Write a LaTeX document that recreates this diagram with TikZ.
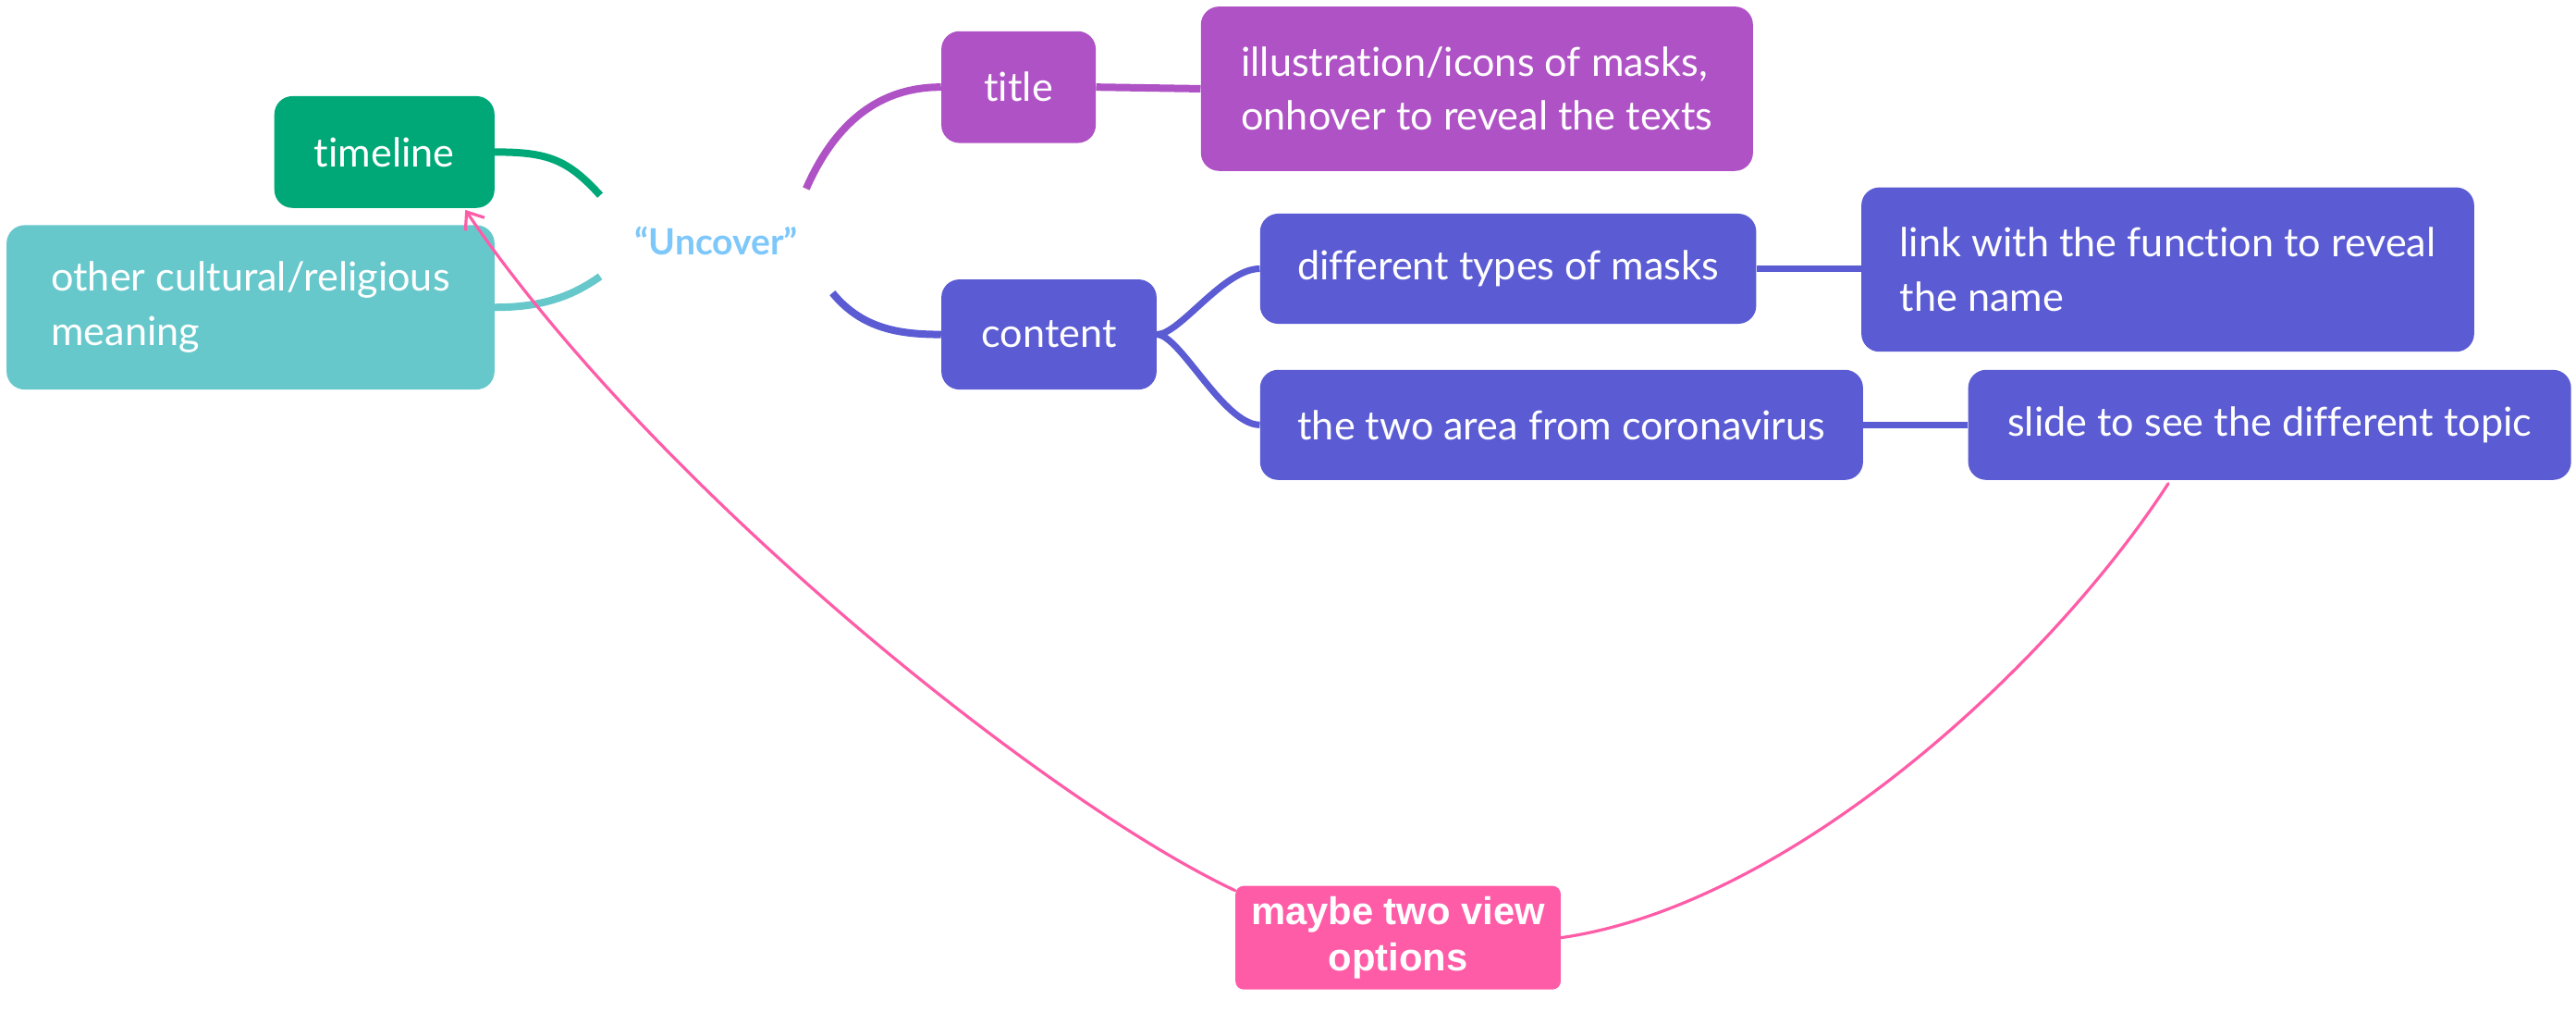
\documentclass[tikz,border=0pt]{standalone}
\usepackage{fontspec}
\setmainfont{Lato}[Ligatures=NoCommon]
\newfontfamily\helv{Liberation Sans}
\usetikzlibrary{arrows.meta,calc}
\definecolor{cgreen}{RGB}{0,168,120}
\definecolor{cteal}{RGB}{103,200,204}
\definecolor{cpurple}{RGB}{175,82,197}
\definecolor{cblue}{RGB}{91,92,211}
\definecolor{cpink}{RGB}{255,92,168}
\definecolor{cunc}{RGB}{125,199,250}
\begin{document}
\begin{tikzpicture}[x=1pt,y=-1pt,
  topic/.style={rounded corners=11pt, text=white, inner sep=0pt, align=center,
    font=\fontsize{24.3}{33}\selectfont},
  multi/.style={topic, align=left},
  branch/.style={line width=4.5pt},
  link/.style={cpink, line width=1.8pt, line cap=round}]
\useasboundingbox (0,0) rectangle (1568,615.7);
% nodes
\node[topic, fill=cgreen, minimum width=134pt, minimum height=68pt] (timeline) at (234,92.5) {timeline};
\node[multi, fill=cteal, minimum width=297pt, minimum height=100pt] (other) at (152.5,187) {other cultural/religious\\meaning};
\node[minimum width=141pt, minimum height=63pt, inner sep=0pt, text=cunc,
  font=\bfseries\fontsize{22}{24}\selectfont] (unc) at (436,146.5) {“Uncover”};
\node[topic, fill=cpurple, minimum width=94pt, minimum height=68pt] (title) at (620,53) {title};
\node[multi, fill=cpurple, minimum width=336pt, minimum height=100pt] (illus) at (899,54) {illustration/icons of masks,\\onhover to reveal the texts};
\node[topic, fill=cblue, minimum width=131pt, minimum height=67pt] (content) at (638.5,203.5) {content};
\node[topic, fill=cblue, minimum width=302pt, minimum height=67pt] (diff) at (918,163.5) {different types of masks};
\node[multi, fill=cblue, minimum width=373pt, minimum height=100pt] (linkf) at (1319.5,164) {link with the function to reveal\\the name};
\node[topic, fill=cblue, minimum width=367pt, minimum height=67pt] (two) at (950.5,258.5) {the two area from coronavirus};
\node[topic, fill=cblue, minimum width=367pt, minimum height=67pt] (slide) at (1381.5,258.5) {slide to see the different topic};
\node[fill=cpink, rounded corners=5pt, text=white, inner sep=0pt, align=center,
  minimum width=198pt, minimum height=63pt,
  font=\helv\bfseries\fontsize{23.5}{28}\selectfont] (maybe) at (851,570.5) {maybe two view\\options};
% branches
\draw[branch, cgreen] (timeline.east) .. controls +(32,0) and +(-20,-22) .. ($(unc.north west)+(0,4)$);
\draw[branch, cteal] (other.east) .. controls +(29,0) and +(-17,12) .. ($(unc.south west)+(0,-10)$);
\draw[branch, cpurple] ($(unc.north east)+(-16,0)$) .. controls +(22,-50) and +(-28,0) .. (title.west);
\draw[branch, cblue] (unc.south east) .. controls +(18,22) and +(-25,0) .. (content.west);
\draw[branch, cpurple] (title.east) -- (illus.west);
\draw[line width=4pt, cblue] (content.east) .. controls +(14,0) and +(-22,0) .. (diff.west);
\draw[line width=4pt, cblue] (content.east) .. controls +(14,0) and +(-22,0) .. (two.west);
\draw[line width=4pt, cblue] (diff.east) -- (diff.east -| linkf.west);
\draw[line width=4pt, cblue] (two.east) -- (slide.west);
% relationship lines
\draw[link, -{Straight Barb[length=9pt,width=14pt,line width=1.8pt]}] ($(maybe.north west)+(0,3)$) .. controls +(-115,-54) and +(115,169) .. ($(timeline.south east)+(-18,1)$);
\draw[link] (maybe.east) .. controls +(140,-20) and +(-72,111) .. ($(slide.south west)+(122,2)$);
\end{tikzpicture}
\end{document}
